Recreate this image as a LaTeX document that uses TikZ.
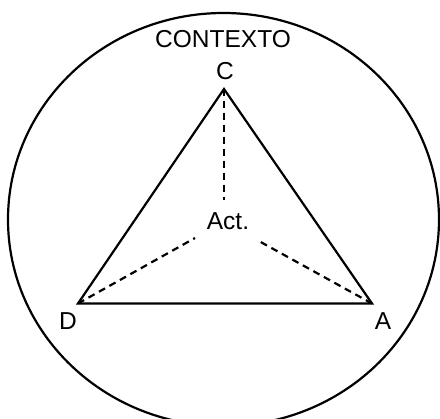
\documentclass[tikz,border=0pt]{standalone}
\usepackage{fontspec}
\setmainfont{Liberation Sans}
\begin{document}
\begin{tikzpicture}[x=1pt,y=-1pt,
  lbl/.style={font=\fontsize{24.5}{24.5}\selectfont, inner sep=0pt},
  edge/.style={line width=2.2pt, line join=miter},
  dashedge/.style={line width=2.2pt, dash pattern=on 7pt off 5pt}]
\useasboundingbox (0,0) rectangle (440,419);
\begin{scope}
\clip (0,0) rectangle (440,419);
\draw[line width=2.2pt] (223.5,219.5) ellipse [x radius=215.5pt, y radius=206.5pt];
\end{scope}
\coordinate (Cv) at (224,89);
\coordinate (Dv) at (78,303.5);
\coordinate (Av) at (372,303.5);
\coordinate (ce) at (224,200);
\coordinate (de) at (195,238);
\coordinate (ae) at (257,240);
\node[lbl] (ctx) at (223,39) {CONTEXTO};
\node[lbl] (cl) at (225,71.5) {C};
\node[lbl] (dl) at (68,321) {D};
\node[lbl] (al) at (383,321) {A};
\node[lbl] (act) at (228,221) {Act.};
\draw[edge] (Cv) -- (Dv) -- (Av) -- cycle;
\draw[dashedge] (Cv) -- (ce);
\draw[dashedge] (Dv) -- (de);
\draw[dashedge] (Av) -- (ae);
\end{tikzpicture}
\end{document}
